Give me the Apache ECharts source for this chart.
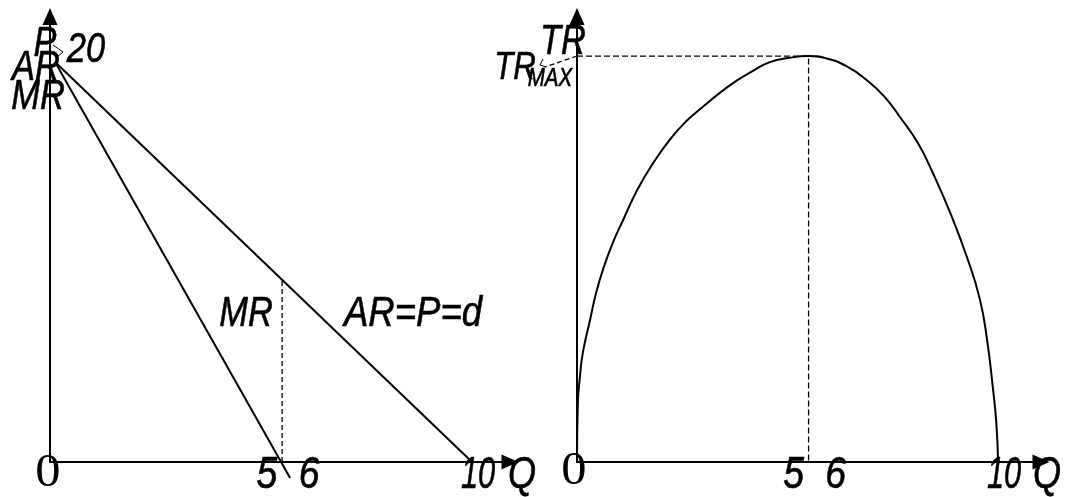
<!DOCTYPE html>
<html>
<head>
<meta charset="utf-8">
<script src="https://cdn.jsdelivr.net/npm/echarts@6/dist/echarts.min.js"></script>
<style>
  html, body { margin: 0; padding: 0; background: #fff; }
  #chart { width: 1068px; height: 497px; }
</style>
</head>
<body>
<div id="chart"></div>
<script>
// tick labels on the Q axis (both panels)
const xTicks = [5, 6, 10];

// left panel: AR = P = d and MR
const arLine = [[0.12, 20], [10, 0]];
const mrLine = [[0.12, 20], [5.69, -0.8]];
const mrDrop = [[5.5, 0], [5.5, 9.11]];

// right panel: TR curve
const trQ = [0, 0.02, 0.07, 0.14, 0.31, 0.45, 0.62, 0.85, 1.09, 1.43, 1.8, 2.21, 2.6, 2.99, 3.4, 3.8, 4.2, 4.58, 5.0, 5.51,
             5.9, 6.4, 6.89, 7.3, 7.67, 8.1, 8.46, 8.86, 9.26, 9.57, 9.74, 9.88, 9.96, 10.0];
const trV = [0, 2.9, 4.2, 5.4, 7.0, 8.3, 9.5, 10.8, 11.9, 13.4, 14.7, 15.9, 16.8, 17.5, 18.2, 18.8, 19.3, 19.7, 19.9, 20.0,
             19.9, 19.5, 18.8, 18.0, 17.0, 15.7, 14.2, 12.3, 10.1, 8.0, 6.0, 3.6, 1.9, 0];
const trMaxGuide = [[0, 20], [5.5, 20], [5.5, 0]];

const FONT = '"Liberation Sans", Arial, sans-serif';
const SERIF = '"Liberation Serif", serif';

function qAxis(gridIndex, max) {
    return {
        type: 'value', gridIndex: gridIndex, min: 0, max: max,
        axisLine: { show: true, onZero: false, symbol: ['none', 'triangle'], symbolSize: [15, 17],
            lineStyle: { color: '#000', width: 2 } },
        axisTick: { show: false },
        splitLine: { show: false },
        axisLabel: { show: false }
    };
}
function label(text, x, y, size, opts) {
    opts = opts || {};
    return {
        type: 'text', x: x, y: y, z: 10, scaleX: opts.sx || 0.82,
        style: { text: text, fill: '#000', fontSize: size || 42, fontFamily: opts.family || FONT,
            fontStyle: opts.upright ? 'normal' : 'italic', align: 'center', verticalAlign: 'middle',
            stroke: '#000', lineWidth: opts.upright ? 0 : 0.6 }
    };
}

var chart = echarts.init(document.getElementById('chart'), null, { renderer: 'canvas' });
chart.setOption({
    animation: false,
    backgroundColor: '#fff',
    grid: [
        { left: 50, top: 16.5, width: 460, height: 445.5 },
        { left: 577, top: 16.5, width: 464, height: 445.5 }
    ],
    xAxis: [qAxis(0, 10.9), qAxis(1, 11.02)],
    yAxis: [qAxis(0, 22.27), qAxis(1, 21.95)],
    series: [
        { type: 'line', xAxisIndex: 0, yAxisIndex: 0, data: arLine, symbol: 'none', clip: false,
            lineStyle: { color: '#000', width: 2 } },
        { type: 'line', xAxisIndex: 0, yAxisIndex: 0, data: mrLine, symbol: 'none', clip: false,
            lineStyle: { color: '#000', width: 2 } },
        { type: 'line', xAxisIndex: 0, yAxisIndex: 0, data: mrDrop, symbol: 'none', clip: false,
            lineStyle: { color: '#000', width: 1.3, type: [5, 3] } },
        { type: 'line', xAxisIndex: 1, yAxisIndex: 1, data: trQ.map((q, i) => [q, trV[i]]),
            symbol: 'none', smooth: 0.5, clip: false,
            lineStyle: { color: '#000', width: 2 } },
        { type: 'line', xAxisIndex: 1, yAxisIndex: 1, data: trMaxGuide, symbol: 'none', clip: false,
            lineStyle: { color: '#000', width: 1.3, type: [6, 3] } }
    ]
});

// Q-axis tick labels placed through each grid's own scale
var tickLabels = [];
[0, 1].forEach(function (g) {
    xTicks.forEach(function (t) {
        var p = chart.convertToPixel({ gridIndex: g }, [t, 0]);
        tickLabels.push(label(String(t), p[0] + 6, p[1] + 14, 44, { sx: t >= 10 ? 0.7 : 0.85 }));
    });
});

chart.setOption({
    graphic: tickLabels.concat([
        label('P', 45, 44),
        label('AR', 36, 68),
        label('MR', 38, 97),
        label('20', 86, 50),
        label('MR', 246, 314),
        label('AR=P=d', 413, 314, 42, { sx: 0.87 }),
        label('Q', 522, 476, 44),
        label('0', 48, 474, 46, { family: SERIF, upright: true, sx: 1.1 }),
        label('TR', 563, 42),
        label('TR', 515, 68, 38),
        label('MAX', 550, 79, 25),
        label('Q', 1047, 476, 44),
        label('0', 574, 472, 46, { family: SERIF, upright: true, sx: 1.1 }),
        { type: 'polyline', z: 10, shape: { points: [[53, 45], [63, 52], [56, 58]] },
            style: { stroke: '#000', lineWidth: 1, fill: null } },
        { type: 'polyline', z: 10, shape: { points: [[577, 56], [545, 67]] },
            style: { stroke: '#000', lineWidth: 1.3, fill: null, lineDash: [5, 3] } },
        { type: 'polyline', z: 10, shape: { points: [[543, 59], [540, 65], [546, 67]] },
            style: { stroke: '#000', lineWidth: 1, fill: null } }
    ])
});
</script>
</body>
</html>
